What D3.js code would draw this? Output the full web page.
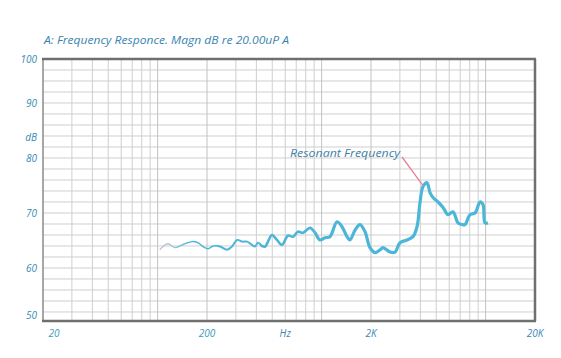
<!DOCTYPE html>
<html><head><meta charset="utf-8">
<script src="https://cdn.jsdelivr.net/npm/d3@7/dist/d3.min.js"></script>
<style>
body{margin:0;background:#fff;}
svg{display:block;}
text{font-family:"Open Sans","DejaVu Sans",sans-serif;font-style:italic;}
</style></head>
<body>
<svg id="chart" width="561" height="358"></svg>
<script>
// ---- data ----
const freqHz = [103,111,116,128,141,162,176,189,203,218,240,265,284,305,327,351,376,392,409,433,452,471,498,534,573,624,669,717,770,849,911,977,1048,1125,1241,1331,1428,1489,1598,1714,1839,1972,2116,2270,2368,2612,2803,3006,3316,3606,3816,3980,4150,4390,4580,4777,5124,5496,5895,6325,6784,7178,7486,8032,8616,9240,9640,9912,10338];
const magnDb = [63.3,64.2,64.4,63.7,64.2,64.8,64.6,63.9,63.5,64.0,63.9,63.3,63.9,65.1,64.8,64.8,64.2,63.9,64.6,64.0,63.9,64.8,66.0,65.1,64.2,65.9,65.7,66.6,66.4,67.3,66.4,65.1,65.5,65.7,68.4,67.5,65.7,65.1,66.9,67.9,66.6,63.7,62.8,63.3,63.7,62.9,62.9,64.6,65.1,65.7,67.5,71.9,74.8,75.5,73.7,72.8,72.0,71.0,69.7,70.2,68.2,67.9,67.9,69.7,70.0,72.0,71.5,68.2,68.2];
const xGridHz = [30,40,50,60,70,80,90,100,200,300,400,500,600,700,800,900,1000,2000,3000,4000,5000,6000,7000,8000,9000,10000];
const yGridDb = [52,54,56,58,60,62,64,66,68,70,72,74,76,78,80,82,84,86,88,90,92,94,96];
const xTickHz = [20,200,2000,20000];
const xTickLabels = ["20","200","2K","20K"];
const yTickDb = [51.5,60,70,80,90,98];
const yTickLabels = ["50","60","70","80","90","100"];
const titleText = "A: Frequency Responce. Magn dB re 20.00uP A";
const annotText = "Resonant Frequency";
const peakHz = 4150, peakDb = 74.8;

// ---- layout ----
const svg = d3.select("#chart");
const L=43, R=535, T=59, B=321;
const x = d3.scaleLog().domain([20,20000]).range([L,R]);
const y = d3.scaleLinear().domain([50.36,98]).range([B,T]);

// grid
const g = svg.append("g");
g.selectAll("line.h").data(yGridDb).join("line")
  .attr("x1",L).attr("x2",R).attr("y1",d=>y(d)).attr("y2",d=>y(d))
  .attr("stroke","#cfcfcf").attr("stroke-width",1);
g.selectAll("line.v").data(xGridHz).join("line")
  .attr("y1",T).attr("y2",B).attr("x1",d=>x(d)).attr("x2",d=>x(d))
  .attr("stroke",d=>[100,200,1000,2000,10000].includes(d)?"#c2c2c2":"#cfcfcf").attr("stroke-width",1);

// frame
svg.append("line").attr("x1",L).attr("x2",L).attr("y1",T).attr("y2",B).attr("stroke","#8a8a8a").attr("stroke-width",1.5);
svg.append("line").attr("x1",L-1).attr("x2",R+1).attr("y1",T).attr("y2",T).attr("stroke","#6f6f6f").attr("stroke-width",2.5);
svg.append("line").attr("x1",L-1).attr("x2",R+1).attr("y1",B).attr("y2",B).attr("stroke","#6f6f6f").attr("stroke-width",2.5);
svg.append("line").attr("x1",R).attr("x2",R).attr("y1",T).attr("y2",B).attr("stroke","#6f6f6f").attr("stroke-width",2.5);

// title
svg.append("text").attr("x",44).attr("y",44).attr("font-size",10.5).attr("fill","#3a84b0")
  .attr("textLength",245).attr("lengthAdjust","spacingAndGlyphs").text(titleText);

// y labels
svg.selectAll("text.yl").data(yTickDb).join("text")
  .attr("x",37).attr("y",d=>y(d)+4).attr("text-anchor","end").attr("font-size",10)
  .attr("fill","#3a8ab5").text((d,i)=>yTickLabels[i]);
svg.append("text").attr("x",37).attr("y",y(83.8)+4).attr("text-anchor","end").attr("font-size",10)
  .attr("fill","#3a8ab5").text("dB");

// x labels
svg.selectAll("text.xl").data(xTickHz).join("text")
  .attr("x",(d,i)=>i===0?x(d)+11:x(d)).attr("y",337).attr("text-anchor","middle").attr("font-size",10)
  .attr("fill",(d,i)=>i<2?"#3a9ab8":"#3a86b5").text((d,i)=>xTickLabels[i]);
svg.append("text").attr("x",x(600)).attr("y",337).attr("text-anchor","middle").attr("font-size",10)
  .attr("fill","#3a86b5").text("Hz");

// curve
const defs = svg.append("defs");
const grad = defs.append("linearGradient").attr("id","lg").attr("gradientUnits","userSpaceOnUse")
  .attr("x1",x(100)).attr("x2",x(150)).attr("y1",0).attr("y2",0);
grad.append("stop").attr("offset","0%").attr("stop-color","#d4c2cc");
grad.append("stop").attr("offset","50%").attr("stop-color","#a8c6d6");
grad.append("stop").attr("offset","100%").attr("stop-color","#4cb6d8");
const bands = [[100,230,1.4],[230,420,2.0],[420,900,2.6],[900,20000,3.2]];
bands.forEach((b,i)=>{
  defs.append("clipPath").attr("id","c"+i).append("rect")
    .attr("x",x(b[0])).attr("width",x(b[1])-x(b[0])).attr("y",0).attr("height",358);
});
const pts = freqHz.map((f,i)=>[f,magnDb[i]]);
const line = d3.line().x(d=>x(d[0])).y(d=>y(d[1])).curve(d3.curveCatmullRom.alpha(0.5));
bands.forEach((b,i)=>{
  svg.append("path").attr("d",line(pts)).attr("fill","none")
    .attr("stroke","url(#lg)").attr("stroke-width",b[2]).attr("stroke-linejoin","round")
    .attr("clip-path","url(#c"+i+")");
});

// annotation
svg.append("line").attr("x1",402).attr("y1",157).attr("x2",x(peakHz)).attr("y2",y(peakDb)-1)
  .attr("stroke","#e8809a").attr("stroke-width",1.3);
svg.append("text").attr("x",290).attr("y",157).attr("font-size",10.5).attr("fill","#3f7fa8")
  .attr("textLength",110).attr("lengthAdjust","spacingAndGlyphs").text(annotText);
</script>
</body></html>
